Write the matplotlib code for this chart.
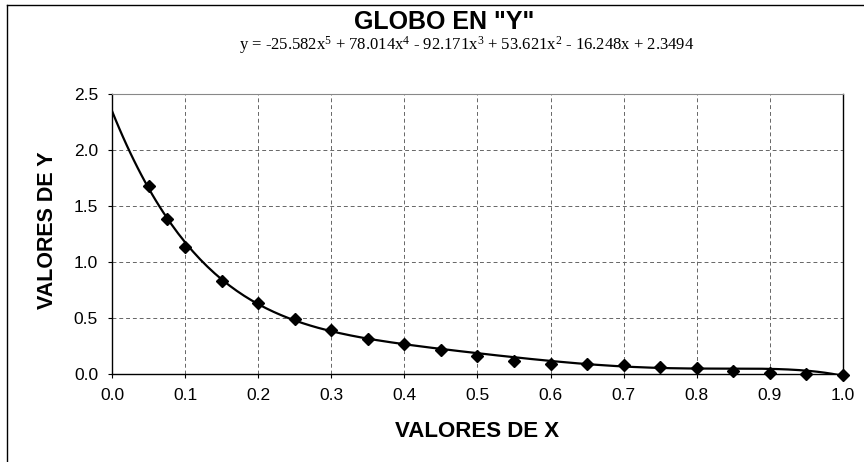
import numpy as np
import matplotlib
matplotlib.use('Agg')
import matplotlib.pyplot as plt
from matplotlib.lines import Line2D

plt.rcParams['font.family'] = ['Liberation Sans', 'DejaVu Sans']
plt.rcParams['mathtext.fontset'] = 'custom'
plt.rcParams['mathtext.rm'] = 'Liberation Serif'
plt.rcParams['mathtext.it'] = 'Liberation Serif:italic'

# measured points
x_vals = [0.05, 0.075, 0.1, 0.15, 0.2, 0.25, 0.3, 0.35, 0.4, 0.45, 0.5,
          0.55, 0.6, 0.65, 0.7, 0.75, 0.8, 0.85, 0.9, 0.95, 1.0]
y_vals = [1.68, 1.38, 1.13, 0.83, 0.63, 0.49, 0.39, 0.31, 0.27, 0.21, 0.16,
          0.12, 0.09, 0.09, 0.08, 0.06, 0.05, 0.03, 0.01, 0.00, -0.01]

# trendline coefficients shown on the chart (highest power first)
coefs = [-25.582, 78.014, -92.171, 53.621, -16.248, 2.3494]

x_ticks = [0.0, 0.1, 0.2, 0.3, 0.4, 0.5, 0.6, 0.7, 0.8, 0.9, 1.0]
y_ticks = [0.0, 0.5, 1.0, 1.5, 2.0, 2.5]

fig = plt.figure(figsize=(8.64, 4.62), dpi=100)
ax = fig.add_axes([0.1296, 0.1905, 0.8461, 0.606])

# trendline
xs = np.linspace(0, 1, 200)
ax.plot(xs, np.polyval(coefs, xs), color='black', lw=1.6, zorder=3)
ax.plot(x_vals, y_vals, linestyle='none', marker='D', color='black',
        markersize=6.5, zorder=4, clip_on=False)

ax.set_xlim(0, 1)
ax.set_ylim(0, 2.5)
ax.set_xticks(x_ticks)
ax.set_yticks(y_ticks)
ax.set_xticklabels([f'{v:.1f}' for v in x_ticks], fontsize=12.5)
ax.set_yticklabels([f'{v:.1f}' for v in y_ticks], fontsize=12.5)
ax.tick_params(direction='out', length=3, width=0.8, pad=7)
ax.grid(True, color='#666666', linestyle=(0, (4, 3)), linewidth=0.7)
ax.set_axisbelow(True)

for side in ['left', 'right', 'bottom']:
    ax.spines[side].set_color('black')
    ax.spines[side].set_linewidth(1.0)
ax.spines['top'].set_color('#888888')
ax.spines['top'].set_linewidth(0.8)

ax.set_xlabel('VALORES DE X', fontsize=16, fontweight='bold')
ax.set_ylabel('VALORES DE Y', fontsize=15.5, fontweight='bold')
ax.xaxis.set_label_coords(0.5, -0.205)
ax.yaxis.set_label_coords(-0.088, 0.514)
ax.xaxis.label.set_va('center')
ax.yaxis.label.set_va('center')

fig.text(0.514, 0.937, 'GLOBO EN "Y"', ha='center', va='baseline',
         fontsize=18, fontweight='bold')
fig.text(0.54, 0.893,
         'y = -25.582x$^5$ + 78.014x$^4$ - 92.171x$^3$ + 53.621x$^2$ - 16.248x + 2.3494',
         ha='center', va='baseline', fontsize=12, family='Liberation Serif')

# outer chart frame (top and left edges visible)
fig.add_artist(Line2D([0.008, 1.0], [0.989, 0.989], color='black', lw=1.0,
                      transform=fig.transFigure))
fig.add_artist(Line2D([0.008, 0.008], [0.0, 0.989], color='black', lw=1.0,
                      transform=fig.transFigure))

fig.savefig('out.png', dpi=100)
